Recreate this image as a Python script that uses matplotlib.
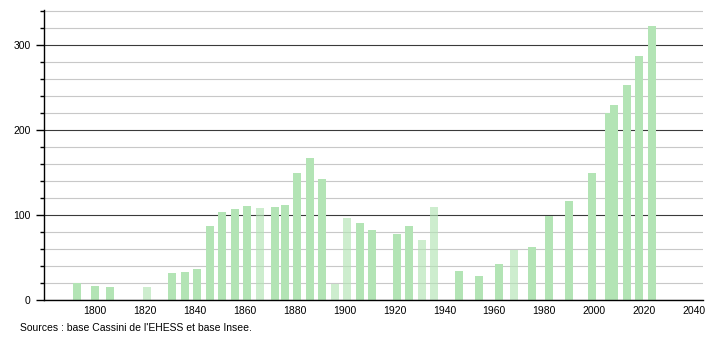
import matplotlib
matplotlib.use("Agg")
import matplotlib.pyplot as plt
from matplotlib.ticker import MultipleLocator

years = [1793, 1800, 1806, 1821, 1831, 1836, 1841, 1846, 1851, 1856,
         1861, 1866, 1872, 1876, 1881, 1886, 1891, 1896, 1901, 1906,
         1911, 1921, 1926, 1931, 1936, 1946, 1954, 1962, 1968, 1975,
         1982, 1990, 1999, 2006, 2008, 2013, 2018, 2023]
population = [20, 17, 15, 15, 32, 33, 37, 87, 104, 107,
              110, 108, 109, 112, 149, 167, 142, 19, 96, 91,
              82, 78, 87, 71, 109, 34, 28, 42, 59, 62,
              99, 116, 149, 220, 229, 253, 287, 322]
faded = [1821, 1866, 1896, 1901, 1931, 1936, 1968]

plt.rcParams['font.family'] = ['Liberation Sans', 'DejaVu Sans']

fig = plt.figure(figsize=(7.1, 3.4), dpi=100)
ax = fig.add_axes([44/710, 1-300/340, (703-44)/710, 290/340])

bar_color = '#b3e4b5'
for y, p in zip(years, population):
    a = 0.65 if y in faded else 1.0
    ax.bar(y, p, width=3.2, color=bar_color, alpha=a, zorder=2, linewidth=0)

ax.set_xlim(1779.6, 2043.6)
ax.set_ylim(0, 341)

ax.yaxis.set_major_locator(MultipleLocator(100))
ax.yaxis.set_minor_locator(MultipleLocator(20))
ax.set_xticks(range(1800, 2041, 20))

ax.grid(axis='y', which='minor', color='#c8c8c8', linewidth=0.8, zorder=0)
ax.grid(axis='y', which='major', color='#3a3a3a', linewidth=0.8, zorder=1)

for s in ['top', 'right']:
    ax.spines[s].set_visible(False)
ax.spines['left'].set_linewidth(1.0)
ax.spines['bottom'].set_linewidth(1.0)

ax.tick_params(axis='y', which='major', length=5.5, width=1, labelsize=7.5, pad=4)
ax.tick_params(axis='y', which='minor', length=3, width=1)
ax.tick_params(axis='x', which='both', length=0, labelsize=7.5, pad=4)

fig.text(20/710, 1-328/340, "Sources : base Cassini de l'EHESS et base Insee.",
         fontsize=7.5, va='center', ha='left')

fig.savefig('out.png', dpi=100)
